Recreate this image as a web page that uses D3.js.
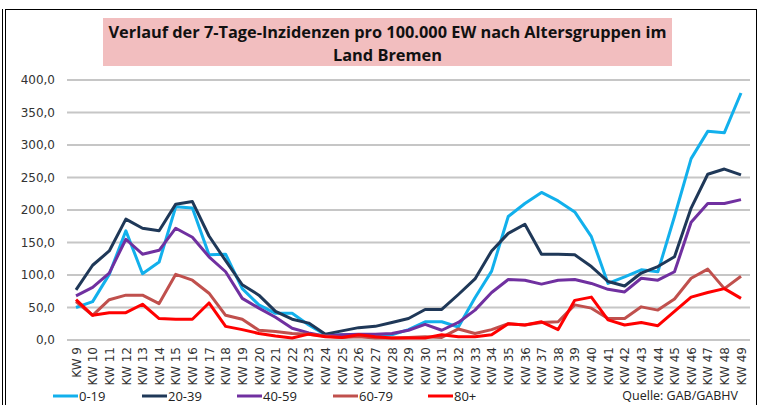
<!DOCTYPE html>
<html>
<head>
<meta charset="utf-8">
<script src="https://cdn.jsdelivr.net/npm/d3@7"></script>
<style>
  body { margin: 0; background: #fff; }
  svg { display: block; }
</style>
</head>
<body>
<script>
// Data
const weeks = d3.range(9, 50).map((w) => "KW " + w);
const seriesNames = ["0-19", "20-39", "40-59", "60-79", "80+"];
const yTicks = [0, 50, 100, 150, 200, 250, 300, 350, 400];

const age0_19 = [50, 59, 101, 168, 102, 120, 205, 203, 131, 132, 79, 54, 41, 41, 23, 8,
  8, 8, 6, 8, 16, 28, 28, 20, 65, 106, 190, 210, 227, 214, 197, 159, 87, 97, 108, 105,
  190, 279, 321, 319, 380];
const age20_39 = [77, 115, 137, 186, 172, 168, 209, 213, 160, 122, 85, 69, 44, 32, 26, 9,
  14, 19, 21, 27, 33, 47, 47, 70, 94, 137, 164, 178, 132, 132, 131, 113, 90, 83, 103, 113,
  128, 203, 255, 263, 254];
const age40_59 = [68, 81, 103, 155, 132, 138, 172, 158, 128, 105, 64, 49, 35, 18, 11, 6,
  8, 9, 9, 10, 15, 24, 15, 27, 46, 73, 93, 92, 86, 92, 93, 87, 78, 74, 95, 92,
  105, 181, 210, 210, 216];
const age60_79 = [59, 38, 62, 69, 69, 56, 101, 92, 72, 38, 32, 15, 13, 10, 9, 6,
  4, 5, 3, 3, 4, 5, 4, 17, 10, 16, 25, 23, 27, 28, 54, 49, 33, 33, 51, 46,
  63, 95, 109, 79, 98];
const age80plus = [62, 38, 42, 42, 55, 33, 32, 32, 57, 21, 16, 10, 6, 3, 9, 5,
  4, 8, 5, 3, 3, 3, 8, 5, 5, 8, 25, 23, 28, 16, 61, 66, 31, 23, 27, 22,
  44, 66, 73, 79, 64];

const seriesValues = [age0_19, age20_39, age40_59, age60_79, age80plus];
const colors = ["#12B0EC", "#1F3858", "#7030A0", "#C0504D", "#FF0000"];

// Layout
const width = 762;
const height = 405;
const plotLeft = 67;
const plotRight = 750;

const svg = d3.select("body").append("svg")
  .attr("width", width)
  .attr("height", height);

// Frame
svg.append("rect")
  .attr("x", 5.5).attr("y", 9.5)
  .attr("width", 751).attr("height", 410)
  .attr("fill", "none").attr("stroke", "#000").attr("stroke-width", 1);
svg.append("line")
  .attr("x1", 2.5).attr("x2", 2.5).attr("y1", 9).attr("y2", height)
  .attr("stroke", "#000");

// Title box
svg.append("rect")
  .attr("x", 103).attr("y", 18)
  .attr("width", 569).attr("height", 48)
  .attr("fill", "#F2BEBF");

svg.append("text")
  .attr("x", 387.5).attr("y", 38)
  .attr("text-anchor", "middle")
  .attr("textLength", 558).attr("lengthAdjust", "spacingAndGlyphs")
  .style("font-family", "'Open Sans', sans-serif")
  .style("font-weight", "bold")
  .style("font-size", "16px")
  .style("fill", "#111")
  .text("Verlauf der 7-Tage-Inzidenzen pro 100.000 EW nach Altersgruppen im");

svg.append("text")
  .attr("x", 387.5).attr("y", 61)
  .attr("text-anchor", "middle")
  .attr("textLength", 109).attr("lengthAdjust", "spacingAndGlyphs")
  .style("font-family", "'Open Sans', sans-serif")
  .style("font-weight", "bold")
  .style("font-size", "16px")
  .style("fill", "#111")
  .text("Land Bremen");

// Scales
const x = d3.scalePoint()
  .domain(weeks)
  .range([76, 741]);

const y = d3.scaleLinear()
  .domain([0, 400])
  .range([340, 80]);

// Gridlines
svg.append("g")
  .selectAll("line")
  .data(yTicks)
  .enter()
  .append("line")
  .attr("x1", plotLeft).attr("x2", plotRight)
  .attr("y1", (d) => y(d)).attr("y2", (d) => y(d))
  .attr("stroke", "#C6C6C6")
  .attr("stroke-width", 2);

// Y axis
const yAxis = d3.axisLeft(y)
  .tickValues(yTicks)
  .tickSize(0)
  .tickPadding(0)
  .tickFormat((d) => d.toFixed(1).replace(".", ","));

svg.append("g")
  .attr("transform", "translate(55,0)")
  .call(yAxis)
  .call((g) => g.select(".domain").remove())
  .selectAll("text")
  .style("font-family", "'DejaVu Sans', sans-serif")
  .style("font-size", "12px")
  .style("fill", "#333");

// X axis
const xAxis = d3.axisBottom(x).tickSize(0).tickPadding(0);

svg.append("g")
  .attr("transform", "translate(0,347)")
  .call(xAxis)
  .call((g) => g.select(".domain").remove())
  .selectAll("text")
  .attr("transform", "rotate(-90)")
  .attr("text-anchor", "end")
  .attr("x", 0)
  .attr("y", 0)
  .attr("dy", "0.35em")
  .style("font-family", "'DejaVu Sans', sans-serif")
  .style("font-size", "12px")
  .style("fill", "#333");

// Lines
const line = d3.line()
  .x((d, i) => x(weeks[i]))
  .y((d) => y(d));

svg.append("g")
  .selectAll("path")
  .data(seriesValues)
  .enter()
  .append("path")
  .attr("d", (d) => line(d))
  .attr("fill", "none")
  .attr("stroke", (d, i) => colors[i])
  .attr("stroke-width", 3)
  .attr("stroke-linejoin", "round");

// Legend
const legendX = [53, 142, 237, 333, 428];

const legend = svg.append("g")
  .selectAll("g")
  .data(seriesNames)
  .enter()
  .append("g")
  .attr("transform", (d, i) => `translate(${legendX[i]},396)`);

legend.append("line")
  .attr("x1", 0).attr("x2", 25)
  .attr("stroke", (d, i) => colors[i])
  .attr("stroke-width", 3);

legend.append("text")
  .attr("x", 26)
  .attr("y", 5)
  .style("font-family", "'Open Sans', sans-serif")
  .style("font-size", "13px")
  .style("fill", "#222")
  .text((d) => d);

// Source
svg.append("text")
  .attr("x", 738)
  .attr("y", 400)
  .attr("text-anchor", "end")
  .style("font-family", "'Open Sans', sans-serif")
  .style("font-size", "12.5px")
  .style("fill", "#222")
  .text("Quelle: GAB/GABHV");
</script>
</body>
</html>
